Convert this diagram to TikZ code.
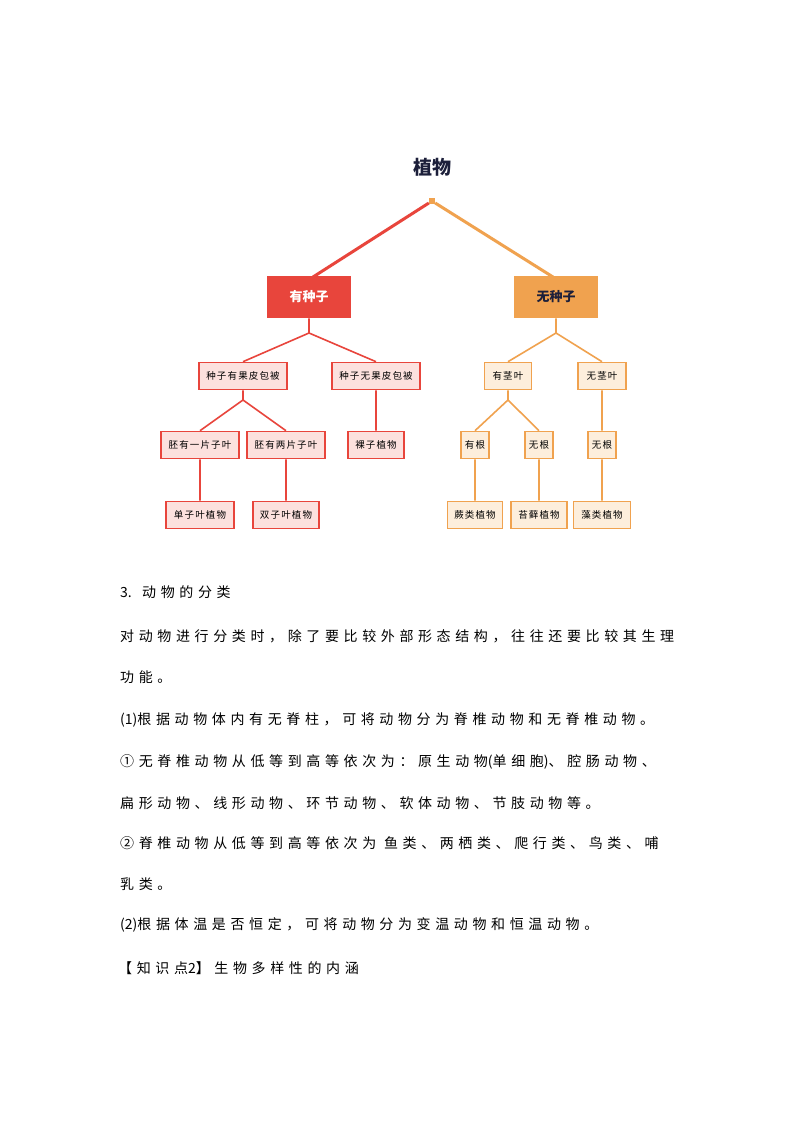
\documentclass[tikz,border=0pt]{standalone}
\usepackage{fontspec}
\setmainfont{Noto Sans CJK SC}
\newfontfamily\wen[LetterSpace=33]{Noto Sans CJK SC}
\newfontfamily\kuang[LetterSpace=12]{Noto Sans CJK SC}
\newfontfamily\xila{Noto Sans CJK SC}
\newcommand{\la}[1]{{\xila #1}}
\definecolor{hong}{HTML}{E8453C}
\definecolor{hongqian}{HTML}{FCE1DE}
\definecolor{cheng}{HTML}{F0A24F}
\definecolor{chengqian}{HTML}{FDEEDC}
\definecolor{mo}{HTML}{1C1F3A}
\begin{document}
\begin{tikzpicture}[x=1pt,y=-1pt]
\tikzstyle{hk}=[draw=hong,fill=hongqian,line width=1.6pt,inner sep=0pt,minimum height=27pt,font=\kuang\fontsize{9.5}{9.5}\selectfont];
\tikzstyle{ck}=[draw=cheng,fill=chengqian,line width=1.6pt,inner sep=0pt,minimum height=27pt,font=\kuang\fontsize{9.5}{9.5}\selectfont];
\tikzstyle{wen}=[anchor=west,inner sep=0pt,font=\wen\fontsize{14}{14}\selectfont];
\useasboundingbox (0,0) rectangle (794,1123);
\fill[white] (0,0) rectangle (794,1123);
% diagram
\node[font=\bfseries\fontsize{19}{19}\selectfont,text=mo] (zw) at (432,167) {植物};
\node[fill=cheng,minimum size=6pt,inner sep=0pt] (gen) at (432,201) {};
\node[draw=hong,fill=hong,line width=1.6pt,minimum width=82pt,minimum height=41pt,text=white,font=\bfseries\fontsize{13}{13}\selectfont] (yz) at (309,297) {有种子};
\node[draw=cheng,fill=cheng,line width=1.6pt,minimum width=82pt,minimum height=41pt,text=mo,font=\bfseries\fontsize{13}{13}\selectfont] (wz) at (556,297) {无种子};
\node[hk,minimum width=88pt] (ygp) at (243,376) {种子有果皮包被};
\node[hk,minimum width=88pt] (wgp) at (376,376) {种子无果皮包被};
\node[hk,minimum width=78pt] (yp) at (200,445) {胚有一片子叶};
\node[hk,minimum width=78pt] (lp) at (286,445) {胚有两片子叶};
\node[hk,minimum width=56pt] (lz) at (376,445) {裸子植物};
\node[hk,minimum width=68pt] (dz) at (200,515) {单子叶植物};
\node[hk,minimum width=66pt] (sz) at (286,515) {双子叶植物};
\node[ck,minimum width=47pt] (yj) at (508,376) {有茎叶};
\node[ck,minimum width=48pt] (wj) at (602,376) {无茎叶};
\node[ck,minimum width=28pt] (yg) at (475,445) {有根};
\node[ck,minimum width=28pt] (wg1) at (539,445) {无根};
\node[ck,minimum width=28pt] (wg2) at (602,445) {无根};
\node[ck,minimum width=55pt] (jl) at (475,515) {蕨类植物};
\node[ck,minimum width=56pt] (tx) at (539,515) {苔藓植物};
\node[ck,minimum width=57pt] (zl) at (602,515) {藻类植物};
\coordinate (j1) at (309,333);
\coordinate (j2) at (243,400);
\coordinate (j3) at (556,333);
\coordinate (j4) at (508,400);
\draw[hong,line width=3pt] (gen) -- (313,277);
\draw[cheng,line width=3pt] (gen) -- (553,277);
\draw[hong,line width=1.6pt]
(yz) -- (j1) (j1) -- (ygp.north) (j1) -- (wgp.north)
(ygp) -- (j2) (j2) -- (yp.north) (j2) -- (lp.north)
(yp) -- (dz) (lp) -- (sz) (wgp) -- (lz)
;
\draw[cheng,line width=1.6pt]
(wz) -- (j3) (j3) -- (yj.north) (j3) -- (wj.north)
(yj) -- (j4) (j4) -- (yg.north) (j4) -- (wg1.north)
(yg) -- (jl) (wg1) -- (tx) (wj) -- (wg2) (wg2) -- (zl)
;
% text
\node[wen] (t1) at (120,592) {\la{3.} 动物的分类};
\node[wen] (t2) at (120,636) {对动物进行分类时，除了要比较外部形态结构，往往还要比较其生理};
\node[wen] (t3) at (120,677) {功能。};
\node[wen] (t4) at (120,720) {\la{(1)}根据动物体内有无脊柱，可将动物分为脊椎动物和无脊椎动物。};
\node[wen] (t5) at (120,762) {①无脊椎动物从低等到高等依次为：原生动物\la{(}单细胞\la{)}、腔肠动物、};
\node[wen] (t6) at (120,803) {扁形动物、线形动物、环节动物、软体动物、节肢动物等。};
\node[wen] (t7) at (120,843) {②脊椎动物从低等到高等依次为 鱼类、两栖类、爬行类、鸟类、哺};
\node[wen] (t8) at (120,884) {乳类。};
\node[wen] (t9) at (120,925) {\la{(2)}根据体温是否恒定，可将动物分为变温动物和恒温动物。};
\node[wen] (t10) at (118,968) {【知识点\la{2}】生物多样性的内涵};
\end{tikzpicture}
\end{document}
